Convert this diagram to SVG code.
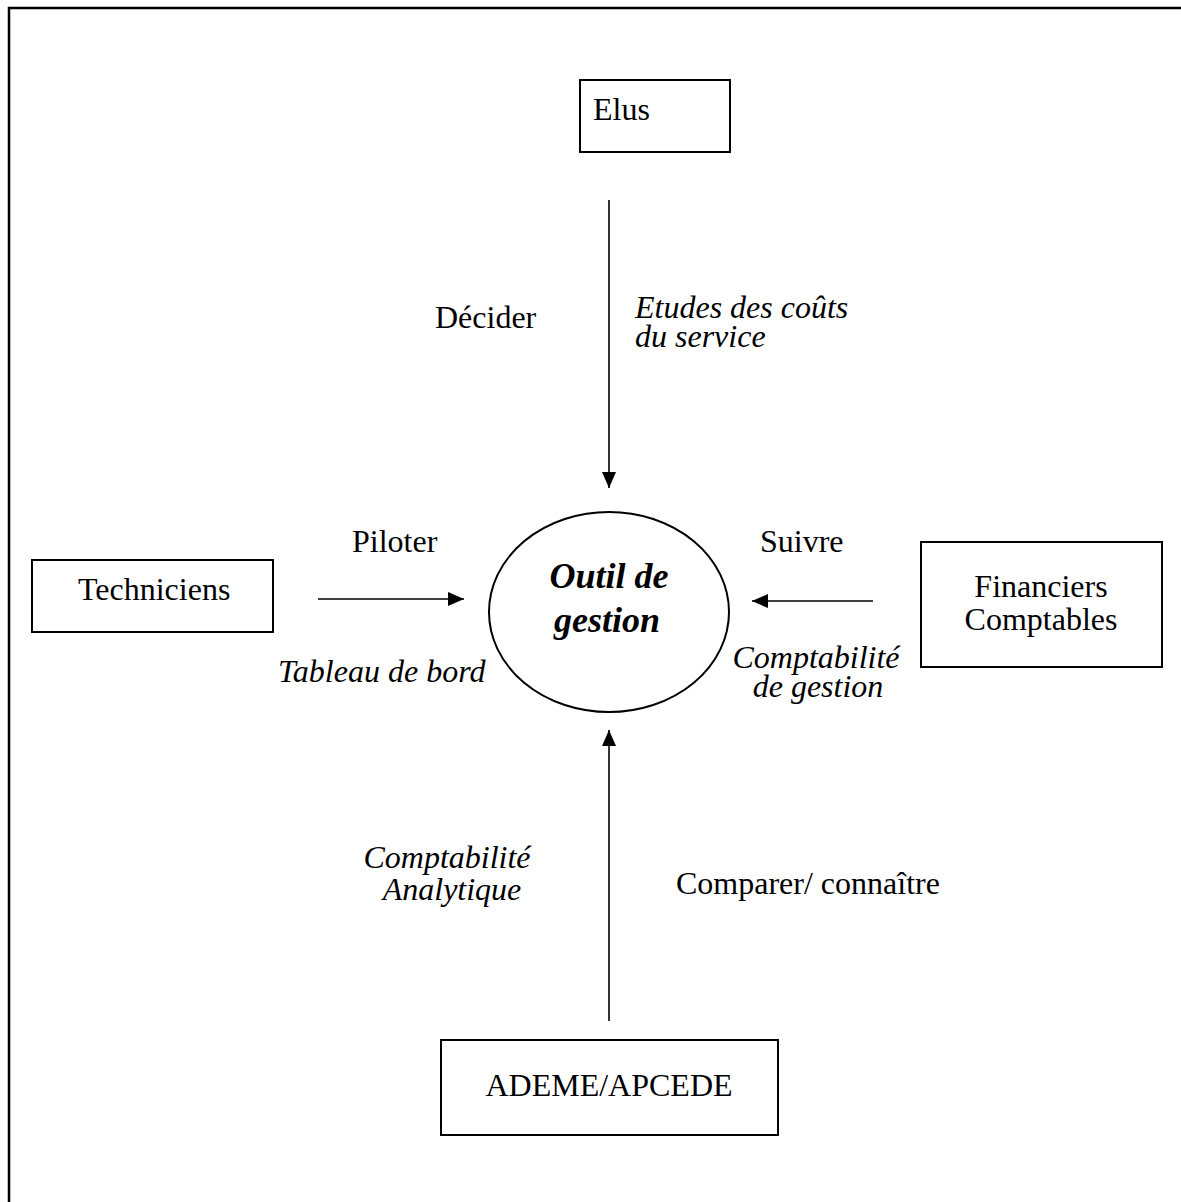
<svg xmlns="http://www.w3.org/2000/svg" width="1181" height="1202" viewBox="0 0 1181 1202">
<style>
.box{fill:#fff;stroke:#000;stroke-width:2}
.t{font-family:"Liberation Serif","Times New Roman",serif;font-size:32px;fill:#000}
.i{font-style:italic}
.c{text-anchor:middle}
.b{font-weight:bold;font-style:italic;font-size:36px}
.conn{stroke:#000;stroke-width:1.6;fill:none;marker-end:url(#ah)}
</style>
<defs>
<marker id="ah" markerUnits="userSpaceOnUse" markerWidth="16" markerHeight="14" refX="16" refY="7" orient="auto">
<path d="M0,0 L16,7 L0,14 Z" fill="#000"/>
</marker>
</defs>
<rect width="1181" height="1202" fill="#fff"/>
<path d="M9,1202 V8 H1181" fill="none" stroke="#000" stroke-width="2.5"/>
<g id="connectors">
<line class="conn" x1="609" y1="200" x2="609" y2="488"/>
<line class="conn" x1="318" y1="599" x2="464" y2="599"/>
<line class="conn" x1="873" y1="601" x2="752" y2="601"/>
<line class="conn" x1="609" y1="1021" x2="609" y2="730"/>
</g>
<g id="labels">
<text class="t" x="435" y="328">Décider</text>
<text class="t i" x="635" y="318">Etudes des coûts</text>
<text class="t i" x="635" y="347">du service</text>
<text class="t" x="352" y="552">Piloter</text>
<text class="t i" x="278" y="682">Tableau de bord</text>
<text class="t" x="760" y="552">Suivre</text>
<text class="t i c" x="816" y="668">Comptabilité</text>
<text class="t i c" x="818" y="697">de gestion</text>
<text class="t i c" x="447" y="868">Comptabilité</text>
<text class="t i c" x="452" y="900">Analytique</text>
<text class="t" x="676" y="894">Comparer/ connaître</text>
</g>
<g id="node-elus">
<rect class="box" x="580" y="80" width="150" height="72"/>
<text class="t" x="593" y="120">Elus</text>
</g>
<g id="node-techniciens">
<rect class="box" x="32" y="560" width="241" height="72"/>
<text class="t" x="78" y="600">Techniciens</text>
</g>
<g id="node-outil">
<ellipse cx="609" cy="612" rx="120" ry="100" fill="#fff" stroke="#000" stroke-width="2"/>
<text class="t b c" x="609" y="588">Outil de</text>
<text class="t b c" x="607" y="632">gestion</text>
</g>
<g id="node-financiers">
<rect class="box" x="921" y="542" width="241" height="125"/>
<text class="t c" x="1041" y="597">Financiers</text>
<text class="t c" x="1041" y="630">Comptables</text>
</g>
<g id="node-ademe">
<rect class="box" x="441" y="1040" width="337" height="95"/>
<text class="t c" x="609" y="1096">ADEME/APCEDE</text>
</g>
</svg>
